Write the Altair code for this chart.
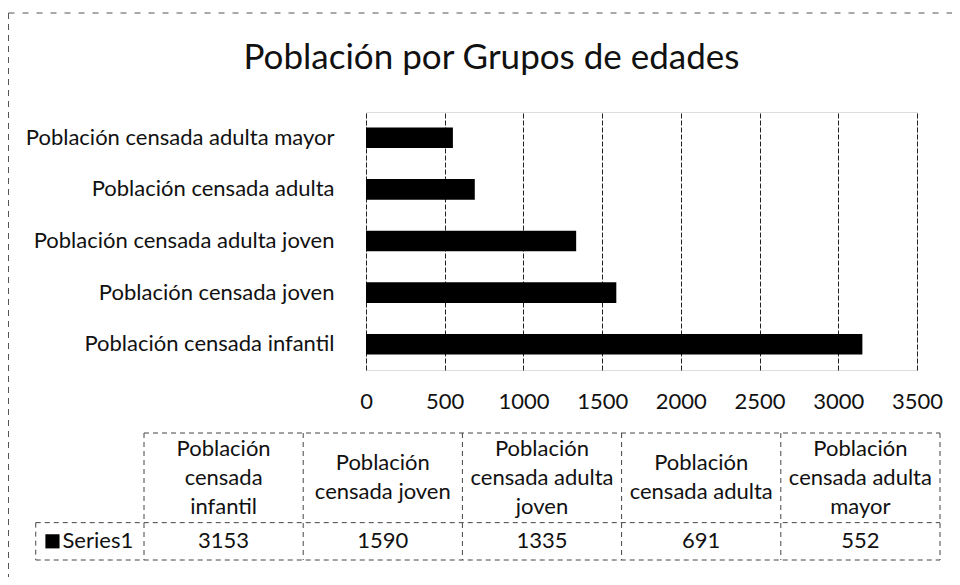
import altair as alt
import pandas as pd

# ---- data ----
categories = [
    "Población censada infantil",
    "Población censada joven",
    "Población censada adulta joven",
    "Población censada adulta",
    "Población censada adulta mayor",
]
values = [3153, 1590, 1335, 691, 552]
series_name = "Series1"
x_ticks = [0, 500, 1000, 1500, 2000, 2500, 3000, 3500]
table_headers = [
    ["Población", "censada", "infantil"],
    ["Población", "censada joven"],
    ["Población", "censada adulta", "joven"],
    ["Población", "censada adulta"],
    ["Población", "censada adulta", "mayor"],
]
title_text = "Población por Grupos de edades"

FONT = "Lato"
FS = 22
W, H = 551, 258
PAD_L, PAD_T = 358, 104
TOTAL_W, TOTAL_H = 944, 569
LINE_H = 29
UNIT = 127 / 3.4  # pixels per table row unit

df = pd.DataFrame({"cat": categories, "val": values})

bars = alt.Chart(df).mark_bar(color="#000000").encode(
    x=alt.X(
        "val:Q",
        scale=alt.Scale(domain=[0, 3500], nice=False, zero=True),
        axis=alt.Axis(
            values=x_ticks, format="d", title=None, grid=True, gridColor="#222",
            gridDash=[5, 2], gridWidth=1, domain=False, ticks=False,
            labelFont=FONT, labelFontSize=FS, labelColor="#111",
            labelPadding=31, labelBaseline="middle", labelFlush=False,
        ),
    ),
    y=alt.Y(
        "cat:N",
        sort=list(reversed(categories)),
        scale=alt.Scale(paddingInner=0.6, paddingOuter=0.3),
        axis=alt.Axis(
            title=None, domain=False, ticks=False, grid=False,
            labelFont=FONT, labelFontSize=FS, labelColor="#111",
            labelPadding=32, labelLimit=400,
        ),
    ),
)

# ---- data table below the chart ----
XS = alt.Scale(domain=[0, 5], range=[-222, 574])
YS = alt.Scale(domain=[0, 3.4], range=[321, 448])

tbl = pd.DataFrame({
    "col": [i + 0.5 for i in range(len(categories))],
    "head": table_headers,
    "hy": [1.2 - (len(h) - 1) / 2 * LINE_H / UNIT for h in table_headers],
    "vy": [2.9] * len(categories),
    "val": [str(v) for v in values],
})

head_text = alt.Chart(tbl).mark_text(
    font=FONT, fontSize=FS, color="#111", baseline="middle", align="center", lineHeight=LINE_H
).encode(
    x=alt.X("col:Q", scale=XS, axis=None),
    y=alt.Y("hy:Q", scale=YS, axis=None),
    text="head",
)

val_text = alt.Chart(tbl).mark_text(
    font=FONT, fontSize=FS, color="#111", baseline="middle", align="center"
).encode(
    x=alt.X("col:Q", scale=XS, axis=None),
    y=alt.Y("vy:Q", scale=YS, axis=None),
    text="val",
)

ser = pd.DataFrame({"col": [-0.29], "sq": [-0.575], "row": [2.9], "label": [series_name]})
ser_text = alt.Chart(ser).mark_text(
    font=FONT, fontSize=FS, color="#111", baseline="middle", align="center"
).encode(
    x=alt.X("col:Q", scale=XS, axis=None),
    y=alt.Y("row:Q", scale=YS, axis=None),
    text="label",
)
ser_key = alt.Chart(ser).mark_square(
    color="#000", opacity=1, size=200, filled=True
).encode(
    x=alt.X("sq:Q", scale=XS, axis=None),
    y=alt.Y("row:Q", scale=YS, axis=None),
)

n = len(categories)
seg_rows = [
    {"x": 0, "x2": n, "y": 0, "y2": 0},
    {"x": -0.68, "x2": n, "y": 2.4, "y2": 2.4},
    {"x": -0.68, "x2": n, "y": 3.4, "y2": 3.4},
    {"x": -0.68, "x2": -0.68, "y": 2.4, "y2": 3.4},
] + [{"x": i, "x2": i, "y": 0, "y2": 3.4} for i in range(n + 1)]
segs = pd.DataFrame(seg_rows)
table_lines = alt.Chart(segs).mark_rule(
    color="#444", strokeWidth=1, strokeDash=[5, 4]
).encode(
    x=alt.X("x:Q", scale=XS, axis=None),
    x2="x2:Q",
    y=alt.Y("y:Q", scale=YS, axis=None),
    y2="y2:Q",
)

# ---- faint frame (scan border) ----
frame_top = alt.Chart(pd.DataFrame({"a": [0]})).mark_rule(
    color="#555", strokeWidth=1, strokeDash=[6, 8]
).encode(x=alt.value(-357.5), x2=alt.value(TOTAL_W - PAD_L), y=alt.value(-99), y2=alt.value(-99))
frame_left = alt.Chart(pd.DataFrame({"a": [0]})).mark_rule(
    color="#555", strokeWidth=1, strokeDash=[6, 5]
).encode(x=alt.value(-357.5), x2=alt.value(-357.5), y=alt.value(-99), y2=alt.value(TOTAL_H - PAD_T))

chart = alt.layer(
    bars, table_lines, head_text, val_text, ser_text, ser_key, frame_top, frame_left
).resolve_scale(x="independent", y="independent").properties(
    width=W,
    height=H,
    title=alt.TitleParams(
        title_text, font=FONT, fontSize=35, fontWeight="normal", color="#111",
        anchor="middle", dx=-150, offset=-63,
    ),
    autosize=alt.AutoSizeParams(type="none"),
    padding={"left": PAD_L, "top": PAD_T, "right": TOTAL_W - PAD_L - W, "bottom": TOTAL_H - PAD_T - H},
).configure_view(stroke=None).configure(background="white")

chart.save("out.html", embed_options={"renderer": "svg", "actions": False})
